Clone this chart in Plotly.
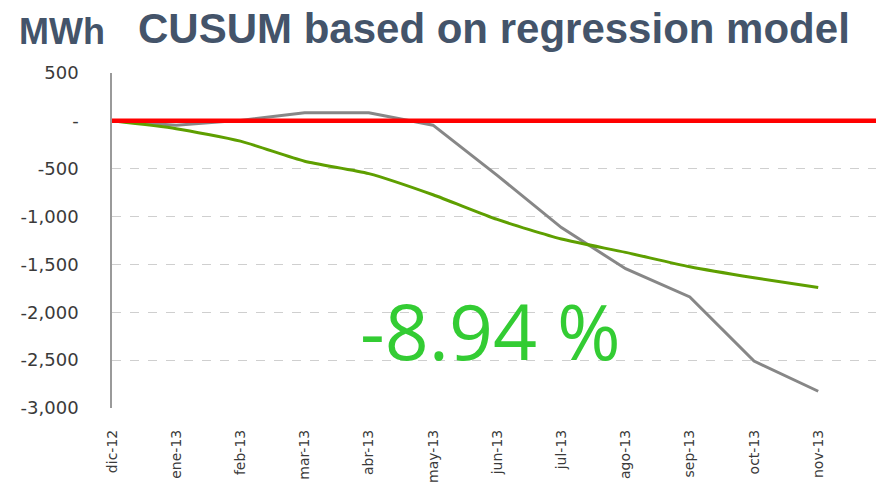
import plotly.graph_objects as go

months = ["dic-12", "ene-13", "feb-13", "mar-13", "abr-13", "may-13",
          "jun-13", "jul-13", "ago-13", "sep-13", "oct-13", "nov-13"]
cusum_actual = [0, -45, 5, 85, 85, -45, -570, -1115, -1545, -1840, -2510, -2825]
cusum_model = [0, -82, -212, -422, -551, -772, -1030, -1235, -1374, -1525, -1640, -1742]
baseline = [0] * (len(months) + 1)

y_tickvals = [500, 0, -500, -1000, -1500, -2000, -2500, -3000]
y_ticktext = ["500", "-", "-500", "-1,000", "-1,500", "-2,000", "-2,500", "-3,000"]

xi = list(range(len(months)))

fig = go.Figure()
fig.add_trace(go.Scatter(x=xi, y=cusum_actual, mode="lines",
                         line=dict(color="#878787", width=3)))
fig.add_trace(go.Scatter(x=xi, y=cusum_model, mode="lines",
                         line=dict(color="#5E9F00", width=3, shape="spline", smoothing=0.6)))
fig.add_trace(go.Scatter(x=list(range(len(baseline))), y=baseline, mode="lines",
                         line=dict(color="#FF0000", width=4.5), hoverinfo="skip"))

fig.update_layout(
    width=878, height=486,
    margin=dict(l=112, r=2, t=73, b=78),
    paper_bgcolor="white", plot_bgcolor="white",
    showlegend=False,
    font=dict(family="DejaVu Sans", color="#3a3a3a"),
)
fig.update_xaxes(
    range=[0, 11.9], tickmode="array", tickvals=xi, ticktext=months,
    tickangle=-90, tickfont=dict(size=14, color="#3a3a3a"),
    showgrid=False, zeroline=False, showline=False,
    ticks="", ticklabelstandoff=18, automargin=False,
)
fig.update_yaxes(
    range=[-3000, 500], tickmode="array", tickvals=y_tickvals, ticktext=y_ticktext,
    tickfont=dict(size=18, color="#3a3a3a"),
    showgrid=True, gridcolor="#cfcfcf", griddash="dash", gridwidth=1,
    zeroline=False, showline=True, linecolor="#9a9a9a", linewidth=1.5,
    ticks="", ticklabelstandoff=28, automargin=False,
)

def px_x(p):
    return (p - 112) / 764.0

def px_y(p):
    return 1 - (p - 73) / 335.0

fig.add_annotation(text="<b>MWh</b>", xref="paper", yref="paper",
                   x=px_x(17), y=px_y(32), xanchor="left", yanchor="middle",
                   showarrow=False, font=dict(family="Liberation Sans", size=36, color="#44546A"))
fig.add_annotation(text="<b>CUSUM based on regression model</b>", xref="paper", yref="paper",
                   x=px_x(136), y=px_y(28), xanchor="left", yanchor="middle",
                   showarrow=False, font=dict(family="Liberation Sans", size=42, color="#44546A"))
fig.add_annotation(text="-8.94 %", xref="paper", yref="paper",
                   x=px_x(490), y=px_y(330), xanchor="center", yanchor="middle",
                   showarrow=False, font=dict(family="Open Sans", size=77, color="#33CC33"))

fig.write_html("out.html", config={"displayModeBar": False},
               post_script="document.body.style.margin='0';")
